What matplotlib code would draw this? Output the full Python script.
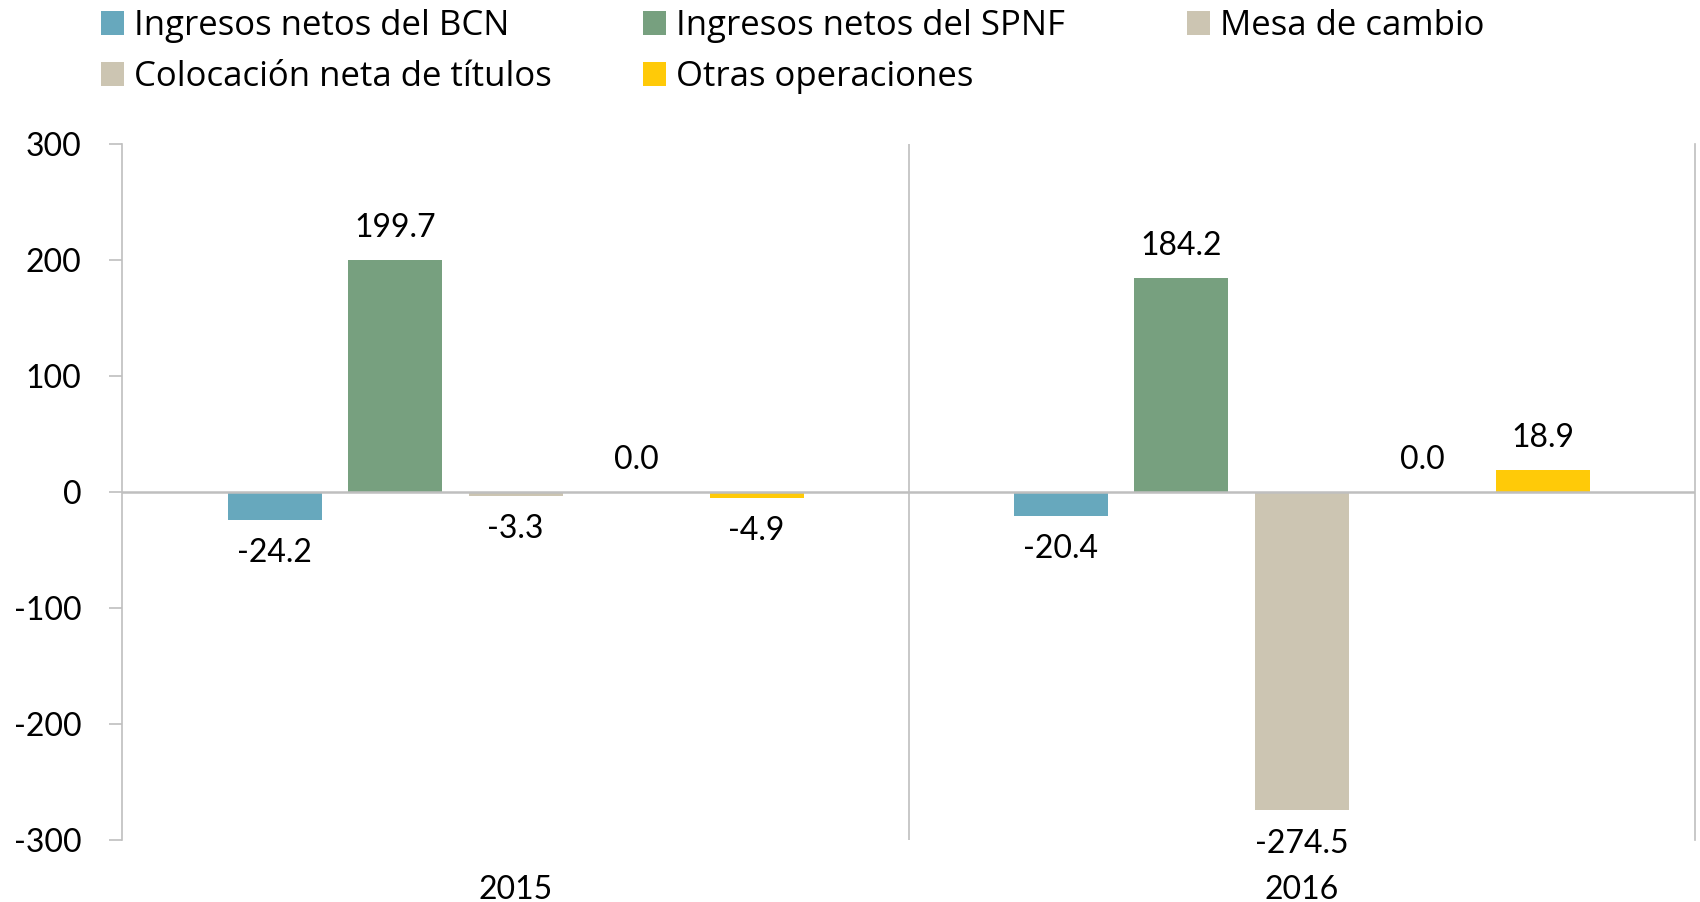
import matplotlib
matplotlib.use("Agg")
import matplotlib.pyplot as plt
import numpy as np
from matplotlib.patches import Patch

plt.rcParams['font.family'] = ['Lato', 'DejaVu Sans']
plt.rcParams['axes.unicode_minus'] = False

categories = ["2015", "2016"]
series_names = ["Ingresos netos del BCN", "Ingresos netos del SPNF", "Mesa de cambio",
                "Colocación neta de títulos", "Otras operaciones"]
bcn = [-24.2, -20.4]
spnf = [199.7, 184.2]
mesa = [-3.3, -274.5]
colocacion = [0.0, 0.0]
otras = [-4.9, 18.9]
series_values = [bcn, spnf, mesa, colocacion, otras]
colors = ["#67A8BD", "#77A07F", "#CCC5B2", "#CCC5B2", "#FFCA08"]
yticks = [-300, -200, -100, 0, 100, 200, 300]

FS = 23
GRAY = "#BFBFBF"

fig = plt.figure(figsize=(17, 9.02), dpi=100)
ax = fig.add_axes([122.5/1700, 1-840/902, (1694.6-122.5)/1700, (840-144)/902])

x = np.arange(len(categories))
pitch = 0.1533
width = 0.1196
for i, (vals, col) in enumerate(zip(series_values, colors)):
    pos = x + (i - 2) * pitch
    bars = ax.bar(pos, vals, width=width, color=col, zorder=2)
    for p, v in zip(pos, vals):
        off = 23 if v >= 0 else -24
        ax.annotate(f"{v:.1f}", xy=(p, v), xytext=(0, off), textcoords="offset points",
                    ha="center", va="center", fontsize=FS, color="black")

ax.set_xlim(-0.5, 1.5)
ax.set_ylim(-300, 300)
ax.set_yticks(yticks)
ax.set_yticklabels([str(t) for t in yticks], fontsize=FS)
ax.set_xticks(x)
ax.set_xticklabels(categories, fontsize=FS)
ax.tick_params(axis="x", length=0, pad=25.5)
ax.tick_params(axis="y", length=9.5, width=1.2, color=GRAY, pad=20)

ax.axhline(0, color=GRAY, lw=1.8, zorder=3)
ax.axvline(0.5, color=GRAY, lw=1.2, zorder=1)
for s in ["top", "bottom"]:
    ax.spines[s].set_visible(False)
for s in ["left", "right"]:
    ax.spines[s].set_color(GRAY)
    ax.spines[s].set_linewidth(1.2)

handles = [Patch(facecolor=c, edgecolor="none") for c in colors]
columns = [[0, 3], [1, 4], [2]]
col_x = [101/1700, 643/1700, 1187/1700]
LFS = 25
for cols, cx in zip(columns, col_x):
    fig.legend([handles[k] for k in cols], [series_names[k] for k in cols],
               loc="upper left", bbox_to_anchor=(cx, 0.990), frameon=False,
               prop={"family": ["Open Sans", "DejaVu Sans"], "size": LFS},
               handlelength=0.66, handleheight=0.66, handletextpad=0.28,
               labelspacing=0.5, borderpad=0, borderaxespad=0)

fig.savefig("out.png", dpi=100)
